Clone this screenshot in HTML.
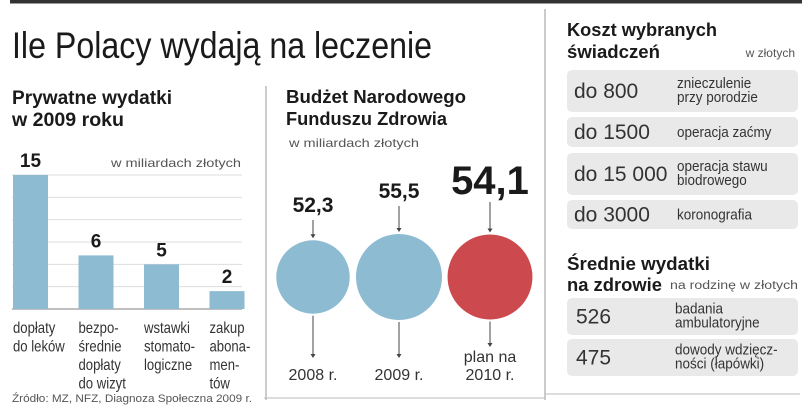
<!DOCTYPE html>
<html><head><meta charset="utf-8">
<style>
html,body{margin:0;padding:0;background:#fff;}
svg{display:block;font-family:"Liberation Sans",sans-serif;}
.b{font-weight:bold;fill:#1a1a1a;}
.l{fill:#333;}
.g{fill:#555;}
</style></head>
<body>
<svg id="c" width="805" height="406" viewBox="0 0 805 406">
<rect x="10" y="0" width="792" height="3.5" fill="#333"/>
<text x="12" y="58" font-size="37" fill="#1a1a1a" textLength="420" lengthAdjust="spacingAndGlyphs">Ile Polacy wydają na leczenie</text>

<line x1="266" y1="86" x2="266" y2="400" stroke="#bbb" stroke-width="1.5"/>
<line x1="545" y1="9" x2="545" y2="400" stroke="#bbb" stroke-width="1.5"/>
<line x1="264" y1="398" x2="545" y2="398" stroke="#bbb" stroke-width="1"/>
<line x1="545" y1="394" x2="800" y2="394" stroke="#bbb" stroke-width="1"/>

<text class="b" x="12" y="104" font-size="19" textLength="160" lengthAdjust="spacingAndGlyphs">Prywatne wydatki</text>
<text class="b" x="12" y="126" font-size="19" textLength="112" lengthAdjust="spacingAndGlyphs">w 2009 roku</text>
<text class="g" x="241" y="167" font-size="12" text-anchor="end" textLength="130" lengthAdjust="spacingAndGlyphs">w miliardach złotych</text>
<g id="bars"></g>
<text class="g" x="12" y="402" font-size="11" textLength="240" lengthAdjust="spacingAndGlyphs">Źródło: MZ, NFZ, Diagnoza Społeczna 2009 r.</text>

<text class="b" x="286" y="103" font-size="18" textLength="180" lengthAdjust="spacingAndGlyphs">Budżet Narodowego</text>
<text class="b" x="286" y="125" font-size="18" textLength="161" lengthAdjust="spacingAndGlyphs">Funduszu Zdrowia</text>
<text class="g" x="289" y="147" font-size="12" textLength="130" lengthAdjust="spacingAndGlyphs">w miliardach złotych</text>
<g id="circles"></g>

<text class="b" x="567" y="36" font-size="18" textLength="150" lengthAdjust="spacingAndGlyphs">Koszt wybranych</text>
<text class="b" x="567" y="58" font-size="18" textLength="93" lengthAdjust="spacingAndGlyphs">świadczeń</text>
<text class="g" x="795" y="57" font-size="12" text-anchor="end">w złotych</text>
<g id="costs"></g>
<text class="b" x="567" y="270" font-size="18" textLength="143" lengthAdjust="spacingAndGlyphs">Średnie wydatki</text>
<text class="b" x="567" y="291" font-size="18" textLength="95" lengthAdjust="spacingAndGlyphs">na zdrowie</text>
<text class="g" x="798" y="289" font-size="11.5" text-anchor="end" textLength="128" lengthAdjust="spacingAndGlyphs">na rodzinę w złotych</text>
<g id="avgs"></g>
</svg>
<script>
const NS="http://www.w3.org/2000/svg";
function mk(p,t,a,txt){const e=document.createElementNS(NS,t);for(const k in a)e.setAttribute(k,a[k]);if(txt!==undefined)e.textContent=txt;p.appendChild(e);return e;}

const barCats=[["dopłaty","do leków"],["bezpo-","średnie","dopłaty","do wizyt"],["wstawki","stomato-","logiczne"],["zakup","abona-","men-","tów"]];
const barVals=[15,6,5,2];
const gridVals=[0,2.5,5,7.5,10,12.5,15];

const bx0=12,bx1=242,base=309,maxV=15,pxTop=175;
const yS=v=>base-(base-pxTop)*v/maxV;
const slot=65.5;
const bars=document.getElementById('bars');
gridVals.forEach(v=>{
 const l=mk(bars,'line',{x1:bx0,x2:bx1,y1:yS(v),y2:yS(v),stroke:v===0?'#999':'#ddd','stroke-width':v===0?1.2:1});
 
 
});
barVals.forEach((v,i)=>{
 const x=bx0+1+i*slot, w=35;
 const r=mk(bars,'rect',{x:x,y:yS(v),width:w,height:base-yS(v),fill:'#8dbbd2'});
 
 
 const t=mk(bars,'text',{x:x+w/2,y:yS(v)-8,'font-size':19,'text-anchor':'middle',class:'b'},String(v));
 
 
 const lg=mk(bars,'g',{transform:`translate(${x},0) scale(0.82,1)`});
 barCats[i].forEach((s,j)=>{
  const c=mk(lg,'text',{x:0,y:333+j*18.5,'font-size':16,class:'l'},s);
  
  
 });
});

const circYears=[["2008 r."],["2009 r."],["plan na","2010 r."]];
const circVals=[52.3,55.5,54.1];
const circLabels=["52,3","55,5","54,1"];
const circColors=['#8dbbd2','#8dbbd2','#cc4a4e'];
const cg=document.getElementById('circles');
const cx=[313,399,490];
const rS=v=>43*Math.sqrt(v/55.5)*(v<54?0.88:1);
circVals.forEach((v,i)=>{
 const r=rS(v),cy=277;
 const big=i===2;
 const ty=big?194:(i===0?212:198);
 const c=mk(cg,'circle',{cx:cx[i],cy:cy,r:r,fill:circColors[i]});
 
 
 const t=mk(cg,'text',{x:cx[i],y:ty,'font-size':big?40:21,'text-anchor':'middle',class:'b'},circLabels[i]);
 
 
 const a1=mk(cg,'line',{x1:cx[i],x2:cx[i],y1:ty+8,y2:cy-r-3,stroke:'#444','stroke-width':1});
 
 
 mk(cg,'path',{d:`M${cx[i]-2.5} ${cy-r-6}L${cx[i]+2.5} ${cy-r-6}L${cx[i]} ${cy-r-2}Z`,fill:'#444'});
 const eb=i===2?346:357;
 const a2=mk(cg,'line',{x1:cx[i],x2:cx[i],y1:cy+r+2,y2:eb,stroke:'#444','stroke-width':1});
 
 
 mk(cg,'path',{d:`M${cx[i]-2.5} ${eb-3}L${cx[i]+2.5} ${eb-3}L${cx[i]} ${eb+1}Z`,fill:'#444'});
 circYears[i].forEach((s,j,arr)=>{
  const y=arr.length>1?362+j*18:380;
  const yt=mk(cg,'text',{x:cx[i],y:y,'font-size':16,'text-anchor':'middle',class:'l'},s);
  
  
 });
});

const costVals=["do 800","do 1500","do 15 000","do 3000"];
const costDescs=[["znieczulenie","przy porodzie"],["operacja zaćmy"],["operacja stawu","biodrowego"],["koronografia"]];
const costBoxes=[[70,42],[117,30],[153,42],[200,29]];
function boxes(gid,vals,descs,geo,vx,dx,pre){
 const g=document.getElementById(gid);
 vals.forEach((v,i)=>{
  const [y,h]=geo[i];
  const r=mk(g,'rect',{x:567,y:y,width:231,height:h,rx:5,fill:'#e9e9e9'});
  
  
  const t=mk(g,'text',{x:vx,y:y+h/2+7,'font-size':21,class:'l'},v);
  
  
  const d=descs[i];
  const dg=mk(g,'g',{transform:`translate(${dx},0) scale(0.9,1)`});
  d.forEach((s,j)=>{
   const yy=d.length>1?y+h/2-3+j*14:y+h/2+5;
   const e=mk(dg,'text',{x:0,y:yy,'font-size':15,class:'l'},s);
   
   
  });
 });
}
boxes('costs',costVals,costDescs,costBoxes,574,677,'cost');

const avgVals=["526","475"];
const avgDescs=[["badania","ambulatoryjne"],["dowody wdzięcz-","ności (łapówki)"]];
boxes('avgs',avgVals,avgDescs,[[298,37],[339,37]],576,675,'avg');
</script>
</body></html>
